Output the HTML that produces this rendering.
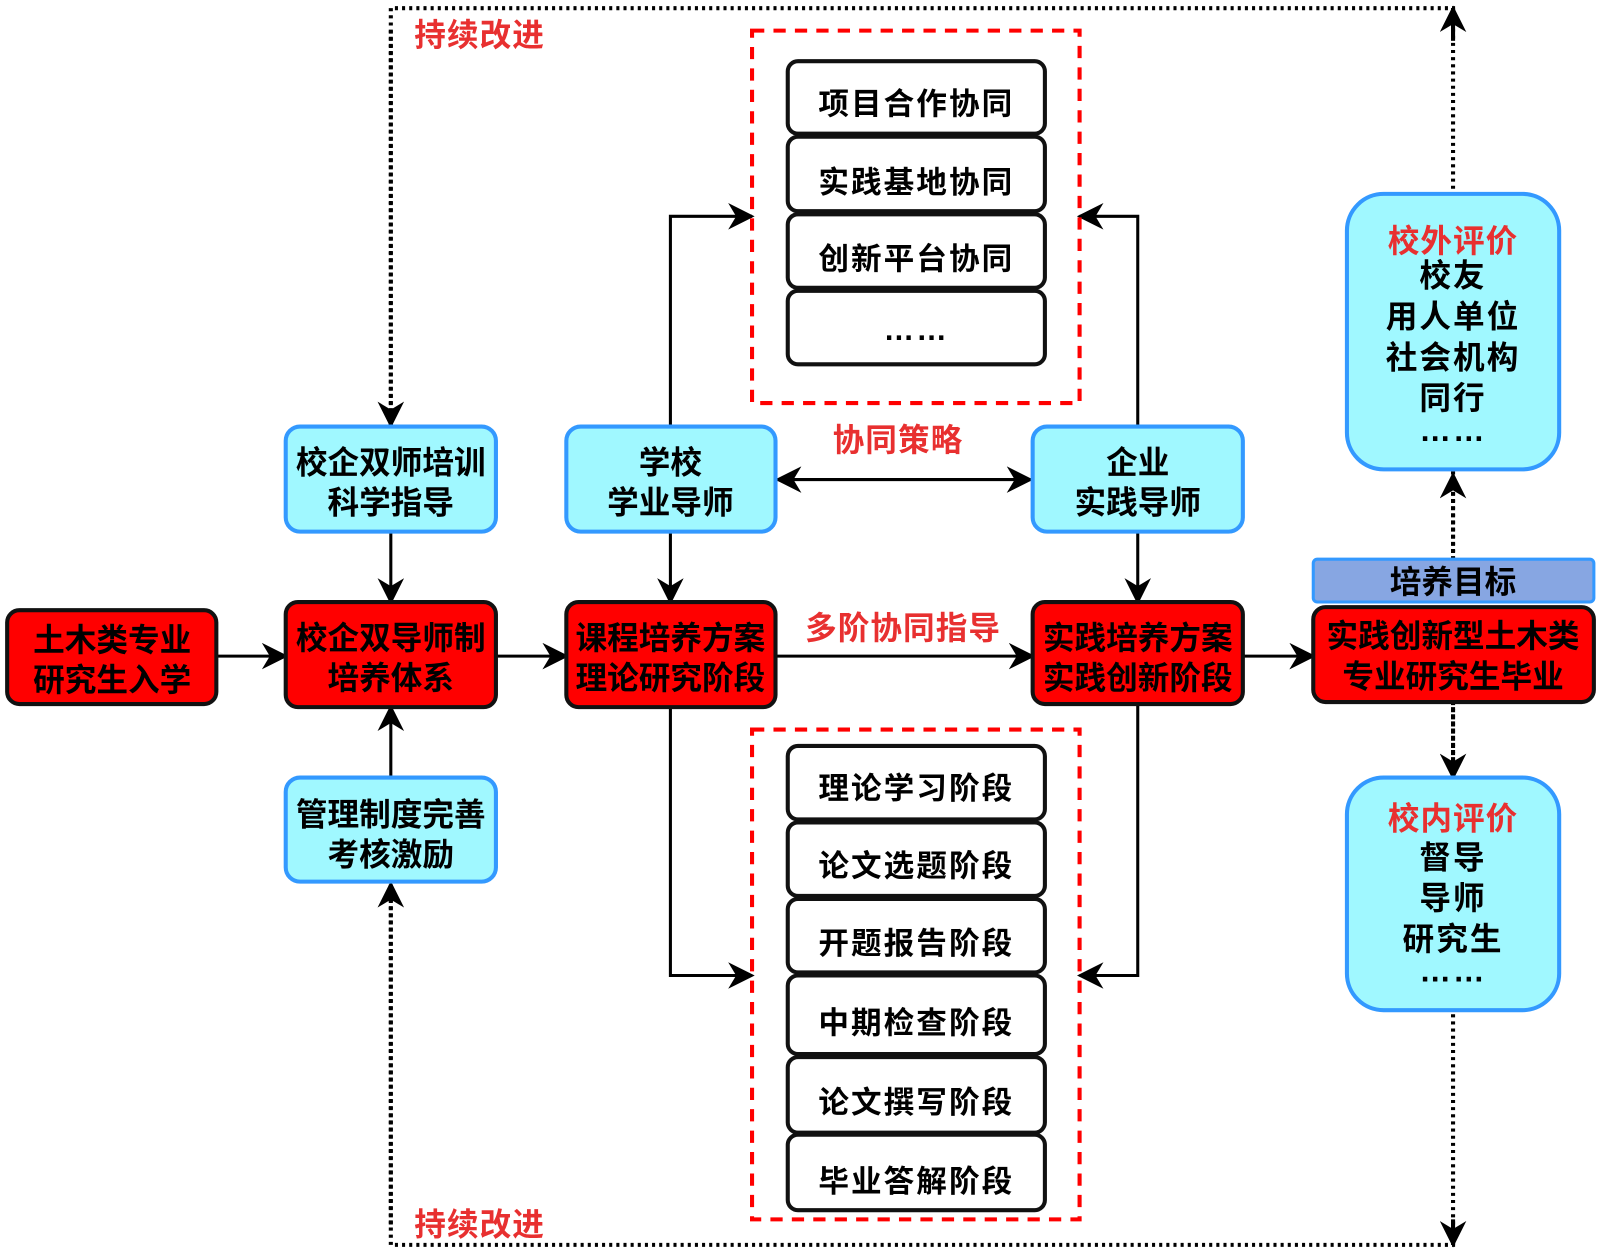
<!DOCTYPE html>
<html><head><meta charset="utf-8"><style>
html,body{margin:0;padding:0;background:#fff;}
svg{display:block;}
text{font-family:"Liberation Sans","Noto Sans CJK SC",sans-serif;font-weight:bold;text-anchor:middle;}
</style></head><body>
<svg width="1600" height="1251" viewBox="0 0 1568 1226" xmlns="http://www.w3.org/2000/svg">
<defs>
<marker id="b" viewBox="0 0 20 20" refX="18" refY="10" markerWidth="26" markerHeight="26" markerUnits="userSpaceOnUse" orient="auto-start-reverse">
<path d="M0,0 L20,10 L0,20 L6,10 Z" fill="#000"/></marker>
</defs>
<g fill="none" stroke="#000" stroke-width="4" stroke-dasharray="3,4">
<path d="M383,417 V8 H1424 V1220 H383 V866"/>
</g>
<g stroke="#000" stroke-width="3" fill="none">
<path d="M383,30 V417" marker-end="url(#b)" stroke-dasharray="3,4" stroke-width="4"/>
<path d="M383,1200 V866" marker-end="url(#b)" stroke-dasharray="3,4" stroke-width="4"/>
<path d="M1424,40 V8" marker-end="url(#b)" stroke-width="4"/>
<path d="M1424,548 V465" marker-end="url(#b)" stroke-dasharray="3,4" stroke-width="4"/>
<path d="M1424,688 V762" marker-end="url(#b)" stroke-dasharray="3,4" stroke-width="4"/>
<path d="M1424,1195 V1220" marker-end="url(#b)" stroke-width="4"/>
<path d="M212,643 H280" marker-end="url(#b)"/>
<path d="M486,643 H555" marker-end="url(#b)"/>
<path d="M760,643 H1012" marker-end="url(#b)"/>
<path d="M1218,643 H1287" marker-end="url(#b)"/>
<path d="M383,521 V590" marker-end="url(#b)"/>
<path d="M383,762 V693" marker-end="url(#b)"/>
<path d="M657,521 V590" marker-end="url(#b)"/>
<path d="M1115,521 V590" marker-end="url(#b)"/>
<path d="M762,470 H1010" marker-start="url(#b)" marker-end="url(#b)"/>
<path d="M657,418 V212 H737" marker-end="url(#b)"/>
<path d="M1115,418 V212 H1058" marker-end="url(#b)"/>
<path d="M657,693 V956 H737" marker-end="url(#b)"/>
<path d="M1115,690 V956 H1058" marker-end="url(#b)"/>
</g>
<g fill="none" stroke="#f00" stroke-width="4" stroke-dasharray="12,9">
<rect x="737" y="30" width="321" height="365"/>
<rect x="737" y="715" width="321" height="480"/>
</g>
<g fill="#fff" stroke="#111" stroke-width="4">
<rect x="772" y="60" width="252" height="71" rx="10"/>
<rect x="772" y="134" width="252" height="73" rx="10"/>
<rect x="772" y="210" width="252" height="72" rx="10"/>
<rect x="772" y="285" width="252" height="72" rx="10"/>
<rect x="772" y="731" width="252" height="72" rx="10"/>
<rect x="772" y="806" width="252" height="72" rx="10"/>
<rect x="772" y="881" width="252" height="72" rx="10"/>
<rect x="772" y="956" width="252" height="77" rx="10"/>
<rect x="772" y="1036" width="252" height="74" rx="10"/>
<rect x="772" y="1112" width="252" height="74" rx="10"/>
</g>
<g font-size="30" fill="#000" letter-spacing="2">
<text x="898" y="112">项目合作协同</text>
<text x="898" y="189">实践基地协同</text>
<text x="898" y="264">创新平台协同</text>
<text x="898" y="333">……</text>
<text x="898" y="783">理论学习阶段</text>
<text x="898" y="859">论文选题阶段</text>
<text x="898" y="935">开题报告阶段</text>
<text x="898" y="1013">中期检查阶段</text>
<text x="898" y="1091">论文撰写阶段</text>
<text x="898" y="1168">毕业答解阶段</text>
</g>
<g fill="#a0f8ff" stroke="#3399ff" stroke-width="4">
<rect x="280" y="418" width="206" height="103" rx="14"/>
<rect x="555" y="418" width="205" height="103" rx="14"/>
<rect x="1012" y="418" width="206" height="103" rx="14"/>
<rect x="280" y="762" width="206" height="102" rx="14"/>
<rect x="1320" y="190" width="208" height="270" rx="36"/>
<rect x="1320" y="762" width="208" height="228" rx="36"/>
</g>
<rect x="1287" y="548" width="275" height="42" rx="4" fill="#87a6e2" stroke="#3399ff" stroke-width="3"/>
<g fill="#f00" stroke="#111" stroke-width="4">
<rect x="7" y="598" width="205" height="92" rx="12"/>
<rect x="280" y="590" width="206" height="103" rx="12"/>
<rect x="555" y="590" width="205" height="103" rx="12"/>
<rect x="1012" y="590" width="206" height="100" rx="12"/>
<rect x="1287" y="595" width="275" height="93" rx="12"/>
</g>
<g font-size="31" fill="#000">
<text x="110" y="638">土木类专业</text><text x="110" y="677">研究生入学</text>
<text x="383" y="636">校企双导师制</text><text x="383" y="675">培养体系</text>
<text x="657" y="636">课程培养方案</text><text x="657" y="675">理论研究阶段</text>
<text x="1115" y="636">实践培养方案</text><text x="1115" y="675">实践创新阶段</text>
<text x="1424" y="634">实践创新型土木类</text><text x="1424" y="674">专业研究生毕业</text>
<text x="1424" y="581">培养目标</text>
<text x="383" y="464">校企双师培训</text><text x="383" y="503">科学指导</text>
<text x="657" y="464">学校</text><text x="657" y="503">学业导师</text>
<text x="1115" y="464">企业</text><text x="1115" y="503">实践导师</text>
<text x="383" y="809">管理制度完善</text><text x="383" y="848">考核激励</text>
</g>
<g font-size="31" fill="#000" letter-spacing="2">
<text x="1424" y="281">校友</text><text x="1424" y="321">用人单位</text><text x="1424" y="361">社会机构</text><text x="1424" y="401">同行</text><text x="1424" y="432">……</text>
<text x="1424" y="851">督导</text><text x="1424" y="891">导师</text><text x="1424" y="931">研究生</text><text x="1424" y="962">……</text>
</g>
<g font-size="31" fill="#e83030" letter-spacing="1">
<text x="1424" y="247">校外评价</text>
<text x="1424" y="813">校内评价</text>
<text x="470" y="45">持续改进</text>
<text x="470" y="1211">持续改进</text>
<text x="880" y="442">协同策略</text>
<text x="885" y="626">多阶协同指导</text>
</g>
</svg>
</body></html>
